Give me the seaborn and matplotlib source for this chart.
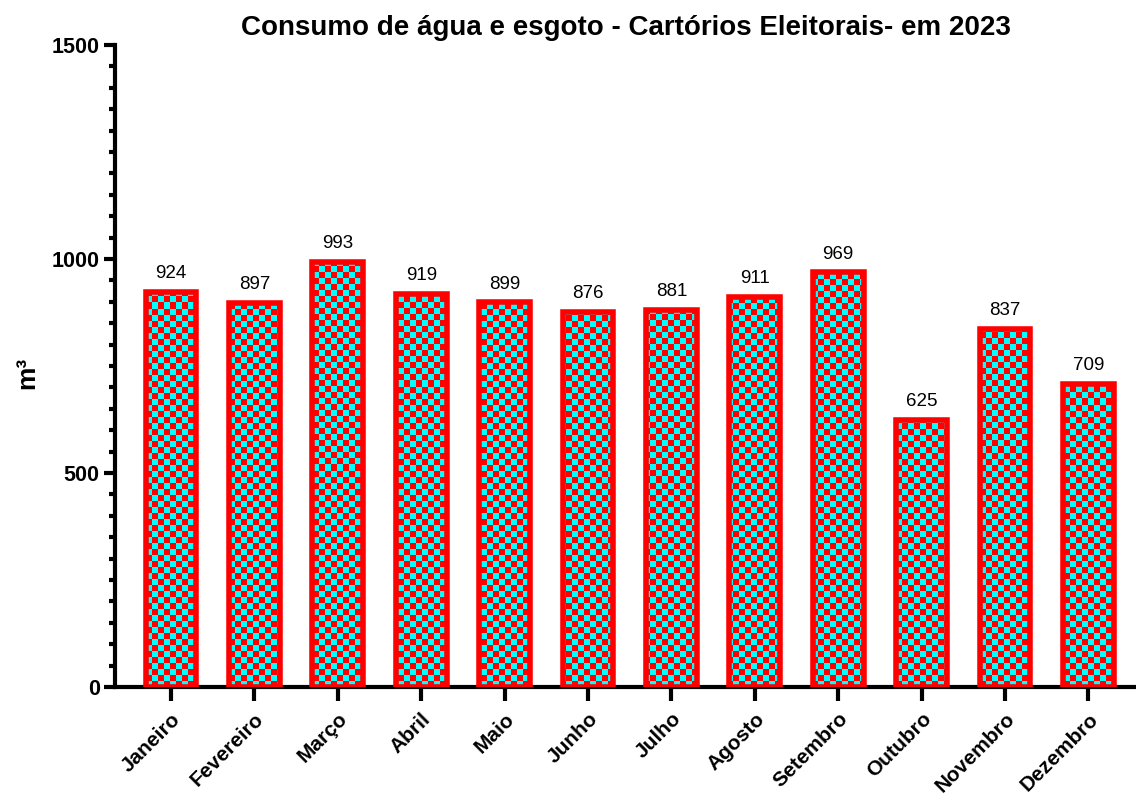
import numpy as np
import pandas as pd
import matplotlib
matplotlib.use("Agg")
import matplotlib.pyplot as plt
import seaborn as sns
from matplotlib.colors import ListedColormap
from matplotlib.ticker import MultipleLocator

months = ["Janeiro", "Fevereiro", "Março", "Abril", "Maio", "Junho",
          "Julho", "Agosto", "Setembro", "Outubro", "Novembro", "Dezembro"]
values = [924, 897, 993, 919, 899, 876, 881, 911, 969, 625, 837, 709]
title = "Consumo de água e esgoto - Cartórios Eleitorais- em 2023"

sns.set_style("white")
plt.rcParams['font.family'] = ['Liberation Sans', 'DejaVu Sans']
plt.rcParams['text.color'] = 'black'
plt.rcParams['axes.labelcolor'] = 'black'
plt.rcParams['xtick.color'] = 'black'
plt.rcParams['ytick.color'] = 'black'

df = pd.DataFrame({"mes": months, "valor": values})

fig = plt.figure(figsize=(11.36, 7.94), dpi=100)
ax = fig.add_axes([115/1136, 1 - 687/794, 1 - 115/1136, (687 - 45)/794])

XL = (-0.671, 11.57)
sns.barplot(data=df, x="mes", y="valor", ax=ax, width=0.61,
            color="cyan", edgecolor="red", linewidth=4, zorder=3)

# checkerboard fill clipped to each bar
ncols = int(1021 / 6)
nrows = int(642 / 6)
yy, xx = np.mgrid[0:nrows, 0:ncols]
checker = ((xx + yy) % 2).astype(float)
cmap = ListedColormap(["red", "cyan"])
for p in ax.patches:
    im = ax.imshow(checker, cmap=cmap, interpolation="nearest", aspect="auto",
                   extent=(XL[0], XL[1], 0, 1500), origin="lower", zorder=2)
    im.set_clip_path(p)
    p.set_facecolor("none")
ax.set_xlim(*XL)
ax.set_ylim(0, 1500)

for i, v in enumerate(values):
    ax.annotate(str(v), (i, v), xytext=(0, 7), textcoords="offset points",
                ha="center", va="bottom", fontsize=13.5, color="black")

for side in ["top", "right"]:
    ax.spines[side].set_visible(False)
for side in ["left", "bottom"]:
    ax.spines[side].set_linewidth(3)
    ax.spines[side].set_color("black")

ax.yaxis.set_major_locator(MultipleLocator(500))
ax.yaxis.set_minor_locator(MultipleLocator(50))
ax.tick_params(axis="y", which="major", direction="out", length=8, width=3,
               labelsize=15.5, left=True, pad=3)
ax.tick_params(axis="y", which="minor", direction="out", length=4.5, width=3, left=True)
ax.tick_params(axis="x", which="major", direction="out", length=10, width=3,
               labelsize=15, bottom=True, pad=6)
for lab in ax.get_yticklabels():
    lab.set_fontweight("bold")
ax.set_xticks(range(len(months)))
ax.set_xticklabels(months, rotation=45, ha="right", rotation_mode="anchor",
                   fontweight="bold", fontsize=15)

ax.set_xlabel("")
ax.set_ylabel("m³", fontsize=19, fontweight="bold")
ax.yaxis.set_label_coords(-0.074, 0.49)
ax.set_title(title, fontsize=20, fontweight="bold", pad=7)

fig.savefig("out.png", dpi=100)
